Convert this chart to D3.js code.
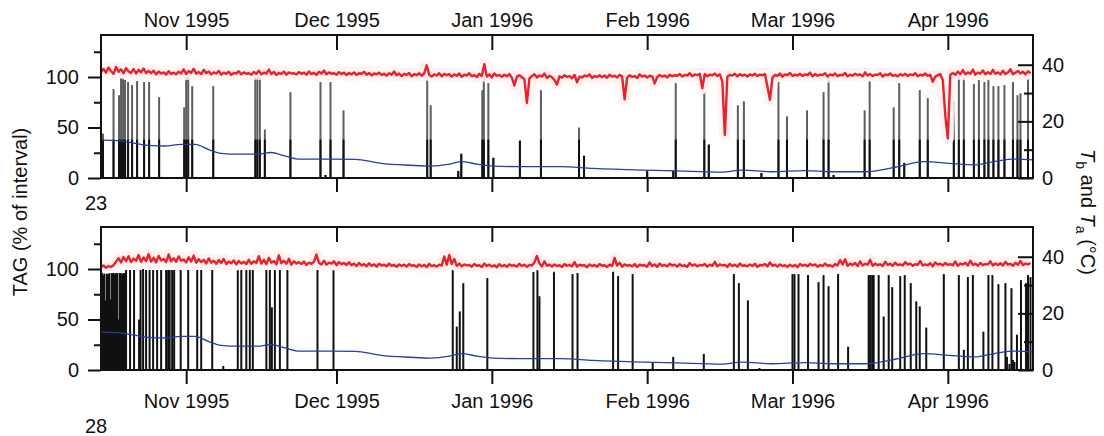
<!DOCTYPE html>
<html><head><meta charset="utf-8">
<script src="https://cdn.jsdelivr.net/npm/d3@7"></script>
<style>body{margin:0;background:#fff}svg{display:block;font-family:"Liberation Sans",Arial,Helvetica,sans-serif}</style>
</head><body><svg id="c" width="1104" height="436"></svg>
<script>
// ---------- data ----------
const seasonStart = "1995-10-15";
const seasonEnd = "1996-04-18";
const monthTicks = ["1995-11-01","1995-12-01","1996-01-01","1996-02-01","1996-03-01","1996-04-01"];
const tagTicks = [0, 50, 100];
const tagMinorTicks = [25, 75, 125];
const tempTicks = [0, 20, 40];
const tempMinorTicks = [10, 30];
const panelLabels = ["23", "28"];

// ambient temperature Ta (deg C), day = days after 15 Oct 1995
const ambientDay = [0,0.4,3.4,6.0,9.4,12.8,16.0,18.8,21.4,24.0,27.3,31.3,33.9,36.7,39.3,45.9,50.7,55.9,61.7,65.7,69.6,72.0,75.0,78.2,85.0,91.6,98.2,108.2,114.9,123.9,127.9,133.9,140.5,145.9,152.5,158.5,164.2,169.2,174.4,177.2,181.8,186];
const ambientTemp = [13.4,13.4,13.2,12.5,11.5,11.3,11.9,11.9,10.1,8.7,8.4,8.4,9.0,7.8,6.7,6.7,6.6,5.2,4.5,4.2,4.9,5.8,4.9,4.2,4.0,4.0,3.4,2.8,2.5,2.1,2.8,2.2,2.6,2.2,2.2,3.8,5.8,5.2,4.6,5.4,6.7,6.4];

// body temperature Tb (deg C), one reading every half day from 15 Oct 1995
const tbStepDays = 0.5;
const tbBat23 = [
37.4,38.5,37.2,39.0,37.7,36.8,39.2,37.5,38.4,37.0,38.8,37.6,37.1,38.5,36.9,38.2,37.3,38.7,37.0,37.8,
37.0,37.9,36.6,37.6,36.9,37.3,36.5,37.7,36.8,37.2,36.6,37.5,36.9,38.4,36.7,37.8,37.1,38.6,36.8,37.4,
36.7,38.2,37.0,37.6,36.6,37.3,36.9,37.8,36.5,37.2,36.8,37.5,36.4,37.1,36.9,37.7,36.6,37.3,36.8,37.0,
36.5,37.4,36.8,37.9,36.6,37.2,36.9,38.3,36.7,37.5,36.4,37.1,36.8,37.6,36.5,37.3,36.9,37.0,36.6,37.4,
36.8,37.2,36.5,37.6,36.7,37.1,36.4,37.5,36.9,38.0,36.6,37.3,36.8,37.0,36.5,37.4,36.7,37.2,36.3,37.1,
36.6,37.3,36.4,37.0,36.8,37.5,36.5,37.1,36.2,36.9,36.6,37.2,36.4,36.8,36.1,37.0,36.5,37.6,36.3,36.9,
36.0,36.8,36.4,37.1,35.9,36.7,36.3,37.0,36.1,36.9,39.8,36.4,35.8,36.6,36.2,37.0,35.9,36.8,36.3,36.7,
35.8,36.6,36.1,36.9,35.7,36.5,36.2,37.0,35.9,36.4,35.6,36.8,36.0,40.2,35.8,36.6,35.5,36.9,36.1,36.4,
35.7,36.5,35.9,36.7,35.4,32.7,35.8,36.3,35.6,34.9,26.5,35.2,36.0,36.6,35.5,36.2,35.8,36.9,35.3,36.1,
35.6,34.6,33.0,35.9,35.4,36.3,35.7,36.0,35.2,36.4,33.8,35.8,35.5,36.2,35.9,36.6,35.3,36.0,35.7,36.3,
35.6,36.2,35.4,36.5,35.8,36.1,35.5,36.4,35.9,27.8,35.4,36.3,35.7,36.0,35.3,36.6,35.8,36.2,35.5,36.1,
35.9,33.4,35.6,36.4,35.8,36.2,35.5,36.5,35.9,36.3,36.1,36.7,35.8,36.4,36.2,37.0,35.9,36.6,36.3,36.8,
31.7,36.7,35.9,36.5,36.3,36.9,36.0,36.6,34.0,15.2,35.8,36.4,36.2,36.8,35.9,36.7,36.1,36.5,35.8,36.6,
36.2,36.8,36.0,36.5,36.3,36.7,32.3,27.6,35.4,36.4,36.1,36.9,35.8,36.6,36.3,37.1,36.0,36.5,36.2,36.8,
36.0,36.6,36.3,37.2,35.9,36.7,36.1,36.5,36.4,37.0,35.8,36.6,36.2,36.9,36.0,36.4,36.3,37.1,35.9,36.5,
36.1,36.8,36.3,36.6,35.9,37.3,36.2,36.7,36.0,36.5,36.4,37.0,35.8,36.6,36.3,36.9,36.1,36.4,35.9,36.7,
36.2,36.8,36.0,36.6,36.3,37.0,35.9,36.5,36.2,36.9,36.1,36.4,34.0,35.8,36.3,36.7,34.5,22.0,14.0,36.5,
37.1,36.5,37.6,36.7,38.1,36.6,37.3,36.8,38.3,36.5,37.2,36.9,38.0,36.6,37.4,36.7,38.2,36.8,37.3,36.6,
37.9,36.7,37.3,38.4,36.6,37.2,37.8,36.9,37.5,36.6,37.7,37.0];
const tbBat28 = [
36.3,36.9,36.1,36.7,36.4,37.0,38.2,39.5,38.0,39.9,38.4,40.2,38.1,39.3,38.6,40.6,38.2,39.7,38.5,40.9,
38.3,39.6,38.0,40.3,38.7,39.2,38.1,40.8,38.4,39.5,38.2,40.1,38.6,39.0,38.0,39.8,38.3,40.4,37.9,39.1,
38.1,38.9,37.6,39.4,37.9,38.6,37.5,38.8,37.8,39.2,37.4,38.3,37.7,38.7,37.3,38.5,37.6,38.2,37.4,38.9,
37.5,38.4,37.8,40.2,37.6,38.9,37.4,39.6,37.9,38.5,37.3,40.5,37.7,38.6,37.5,39.3,37.2,38.4,37.6,38.1,
37.4,38.3,37.1,37.9,37.5,38.2,40.8,37.8,37.3,38.6,37.2,37.9,37.6,38.4,37.0,38.1,37.4,37.8,37.1,38.0,
37.0,37.6,36.7,37.8,36.9,37.4,36.6,37.7,36.8,37.3,36.5,37.5,36.9,37.2,36.6,37.6,36.8,37.1,36.4,37.3,
36.7,37.2,36.5,37.4,36.8,37.0,36.4,37.3,36.6,37.1,36.3,37.5,36.7,37.0,36.5,37.2,36.9,40.1,37.2,40.6,
37.4,39.2,36.8,37.6,36.6,37.3,36.9,37.1,36.5,37.4,36.8,37.0,36.4,37.6,36.7,37.2,36.5,37.0,36.3,37.4,
36.6,37.1,36.4,37.3,36.8,37.0,36.5,37.5,36.7,37.2,36.4,37.1,36.9,38.0,40.3,37.6,36.6,38.4,36.8,37.2,
36.5,37.3,36.7,37.0,36.4,37.4,36.8,37.1,36.6,38.1,36.5,37.2,36.9,37.0,36.3,37.3,36.7,37.1,36.5,37.4,
36.8,37.0,36.4,37.2,36.7,39.6,36.9,37.9,36.5,37.3,36.8,37.1,36.6,37.4,36.4,37.2,36.9,37.0,36.5,38.0,
36.7,37.3,36.4,37.6,36.8,37.1,36.6,37.5,36.9,37.2,36.5,37.4,36.7,37.0,36.4,37.8,36.8,37.3,36.6,37.1,
36.9,37.4,36.5,37.2,36.8,38.2,36.6,37.3,36.9,37.1,36.4,37.5,36.7,37.2,36.5,37.6,36.8,37.0,36.6,37.3,
36.7,37.5,36.4,37.1,36.9,37.4,36.6,38.0,36.8,37.2,36.5,37.3,36.7,37.0,36.4,37.2,36.6,37.1,36.3,37.4,
36.8,37.2,36.6,37.5,36.9,37.3,36.5,37.1,36.7,37.6,36.8,37.0,36.5,37.4,36.9,38.8,37.3,39.1,36.8,37.6,
37.0,37.8,36.7,38.4,36.9,37.5,37.2,38.9,36.8,37.6,37.0,37.4,36.7,38.2,37.1,37.5,36.8,37.9,37.0,37.3,
36.9,38.1,37.2,37.6,36.8,37.4,37.1,38.5,36.9,37.3,37.0,37.7,36.6,38.0,37.2,37.5,36.9,37.8,37.1,37.4,
37.0,38.3,36.8,37.6,37.2,37.9,36.9,38.6,37.1,37.5,36.8,37.8,37.0,37.4,37.3,38.4,36.9,37.6,37.1,37.7,
36.9,38.2,37.2,37.5,36.8,37.9,37.1,38.5,37.0,37.6,37.3,37.8];

// TAG (% of interval) bars: day after 15 Oct 1995 and percentage
const tagDay23 = [0.4,2.5,3.6,4.0,4.4,4.8,5.4,6.2,7.2,8.6,9.6,11.6,16.6,17.0,17.4,18.2,22.4,30.8,31.2,31.7,32.7,37.8,43.8,44.8,45.8,48.4,65.1,65.8,71.3,71.9,76.1,76.4,77.3,78.3,83.6,87.8,95.4,96.4,109.0,114.2,114.7,120.4,121.3,127.1,128.3,131.8,135.2,136.9,140.9,144.2,145.2,146.2,152.4,153.4,158.2,159.3,160.3,163.4,165.0,170.2,171.2,172.2,174.2,175.2,176.3,177.1,178.1,179.1,180.3,182.0,182.9,183.5,185.0];
const tagPct23 = [44,88,82,99,100,97,95,92,96,95,95,80,70,100,100,91,91,100,100,100,48,85,95,3,95,67,97,72,7,24,87,100,94,20,37,87,50,22,7,7,94,85,33,72,76,5,95,61,67,85,100,3,67,96,70,94,15,87,79,76,100,100,93,97,95,97,91,91,92,95,82,84,99];
const tagDay28 = [0.2,0.45,0.7,0.95,1.2,1.45,1.7,1.95,2.2,2.45,2.7,2.95,3.2,3.45,3.7,3.95,4.2,4.45,4.7,5.0,5.8,6.6,7.6,7.9,8.4,9.0,9.7,10.4,11.2,12.0,13.0,13.4,13.7,14.2,14.6,15.9,17.4,19.2,20.0,22.2,24.4,27.3,28.0,29.0,29.7,30.3,33.0,33.7,34.1,34.7,35.7,37.2,43.2,46.4,70.2,71.0,71.6,72.3,77.1,86.3,87.1,87.5,90.4,94.1,95.1,102.2,103.2,106.1,110.1,114.2,120.3,126.3,127.3,129.1,131.4,138.0,138.4,139.2,141.1,143.2,144.2,145.2,147.1,149.1,153.2,153.5,153.9,154.2,155.2,156.2,157.2,157.9,159.5,160.4,161.6,162.7,163.4,164.7,168.2,171.2,172.2,173.0,174.0,176.1,177.1,177.9,179.1,180.5,180.8,181.3,181.7,182.0,182.3,182.8,183.6,184.6,185.0,185.5];
const tagPct28 = [96,94,96,69,96,95,96,70,96,96,95,96,96,50,96,96,95,96,96,99,99,99,50,99,100,99,99,99,99,99,99,99,99,99,99,99,99,99,99,99,4,99,99,99,99,99,99,99,62,99,99,99,99,99,99,43,58,86,91,97,99,73,98,95,96,98,93,95,7,13,16,95,86,69,2,95,95,95,94,87,94,83,95,23,94,94,94,94,94,53,94,82,93,94,86,68,63,42,95,94,20,92,94,38,94,94,85,86,13,6,81,10,8,35,89,86,94,92];

// ---------- layout / scales ----------
const W = 1104, H = 436;
const plotLeft = 101, plotRight = 1033;
const tagMax = 141.6, tempMax = 50.5;
const parseDay = d3.utcParse("%Y-%m-%d");
const t0 = parseDay(seasonStart), t1 = parseDay(seasonEnd);
const dayToDate = d => new Date(t0.getTime() + d * 864e5);
const x = d3.scaleUtc().domain([t0, t1]).range([plotLeft, plotRight]);
const months = monthTicks.map(parseDay);
const fmt = d3.utcFormat("%b %Y");
const FONT = '"Liberation Sans", Arial, Helvetica, sans-serif';

const panels = [
  {label: panelLabels[0], top: 35, bottom: 178, tb: tbBat23, tagDay: tagDay23, tagPct: tagPct23, labelsOnTop: true, fadeUpper: true, labelY: 210},
  {label: panelLabels[1], top: 227, bottom: 370, tb: tbBat28, tagDay: tagDay28, tagPct: tagPct28, labelsOnTop: false, fadeUpper: false, labelY: 433}
];

const svg = d3.select("#c");
svg.append("rect").attr("width", W).attr("height", H).attr("fill", "#fff");

function styleAxis(g) {
  g.select(".domain").remove();
  g.attr("font-size", 20).attr("font-family", FONT);
  g.selectAll("line").attr("stroke", "#111").attr("stroke-width", 2);
  g.selectAll("text").attr("fill", "#111");
}

panels.forEach(p => {
  const yL = d3.scaleLinear().domain([0, tagMax]).range([p.bottom, p.top]);
  const yR = d3.scaleLinear().domain([0, tempMax]).range([p.bottom, p.top]);
  const g = svg.append("g");

  const bars = p.tagDay.map((d, i) => ({date: dayToDate(d), v: Math.min(100, p.tagPct[i])}));
  g.append("g").selectAll("rect").data(bars).join("rect")
    .attr("x", d => x(d.date) - 1).attr("width", 2)
    .attr("y", d => yL(d.v)).attr("height", d => yL(0) - yL(d.v))
    .attr("fill", p.fadeUpper ? "#5e5e5e" : "#111");
  if (p.fadeUpper) {
    g.append("g").selectAll("rect").data(bars).join("rect")
      .attr("x", d => x(d.date) - 1).attr("width", 2)
      .attr("y", d => yL(Math.min(d.v, 38))).attr("height", d => yL(0) - yL(Math.min(d.v, 38)))
      .attr("fill", "#111");
  }

  // ambient temperature
  const amb = ambientDay.map((d, i) => ({date: dayToDate(d), v: ambientTemp[i]}));
  g.append("path").datum(amb)
    .attr("fill", "none").attr("stroke", "#2b3aa6").attr("stroke-width", 1.3)
    .attr("d", d3.line().x(d => x(d.date)).y(d => yR(d.v)).curve(d3.curveMonotoneX));

  // body temperature
  const tb = p.tb.map((v, i) => ({date: dayToDate(i * tbStepDays), v}));
  const tbLine = d3.line().x(d => x(d.date)).y(d => yR(d.v));
  g.append("path").datum(tb)
    .attr("fill", "none").attr("stroke", "#fff2f0").attr("stroke-opacity", 0.85)
    .attr("stroke-width", 12).attr("stroke-linejoin", "round")
    .attr("d", tbLine);
  g.append("path").datum(tb)
    .attr("fill", "none").attr("stroke", "#e8212b").attr("stroke-width", 2.4)
    .attr("stroke-linejoin", "round")
    .attr("d", tbLine);

  // frame
  g.append("rect").attr("x", plotLeft).attr("y", p.top)
    .attr("width", plotRight - plotLeft).attr("height", p.bottom - p.top)
    .attr("fill", "none").attr("stroke", "#111").attr("stroke-width", 2);

  // left axis
  g.append("g").attr("transform", `translate(${plotLeft},0)`)
    .call(d3.axisLeft(yL).tickValues(tagTicks).tickSize(13).tickPadding(9)).call(styleAxis);
  g.append("g").attr("transform", `translate(${plotLeft},0)`)
    .call(d3.axisLeft(yL).tickValues(tagMinorTicks).tickSize(7).tickFormat("")).call(styleAxis);
  // right axis
  g.append("g").attr("transform", `translate(${plotRight},0)`)
    .call(d3.axisRight(yR).tickValues(tempTicks).tickSize(-15).tickPadding(9)).call(styleAxis);
  g.append("g").attr("transform", `translate(${plotRight},0)`)
    .call(d3.axisRight(yR).tickValues(tempMinorTicks).tickSize(-9).tickFormat("")).call(styleAxis);
  // bottom month ticks (outward)
  g.append("g").attr("transform", `translate(0,${p.bottom})`)
    .call(d3.axisBottom(x).tickValues(months).tickSize(14).tickPadding(10)
      .tickFormat(p.labelsOnTop ? "" : fmt)).call(styleAxis);
  // top month ticks (inward)
  g.append("g").attr("transform", `translate(0,${p.top})`)
    .call(d3.axisTop(x).tickValues(months).tickSize(-15).tickFormat("")).call(styleAxis);
  if (p.labelsOnTop) {
    const lg = g.append("g").attr("transform", `translate(0,${p.top})`)
      .call(d3.axisTop(x).tickValues(months).tickSize(0).tickPadding(8).tickFormat(fmt)).call(styleAxis);
    lg.selectAll("line").remove();
  }
  // panel label
  g.append("text").attr("x", 85).attr("y", p.labelY)
    .attr("font-size", 20).attr("font-family", FONT).attr("fill", "#111").text(p.label);
});

// axis titles
svg.append("text")
  .attr("transform", "translate(27,212) rotate(-90)")
  .attr("text-anchor", "middle").attr("font-size", 20).attr("font-family", FONT).attr("fill", "#111")
  .text("TAG (% of interval)");

const rt = svg.append("text")
  .attr("transform", "translate(1081,212) rotate(90)")
  .attr("text-anchor", "middle").attr("font-size", 20).attr("font-family", FONT).attr("fill", "#111");
rt.append("tspan").attr("font-style", "italic").text("T");
rt.append("tspan").attr("font-size", 14).attr("dy", 5).text("b");
rt.append("tspan").attr("dy", -5).text(" and ");
rt.append("tspan").attr("font-style", "italic").text("T");
rt.append("tspan").attr("font-size", 14).attr("dy", 5).text("a");
rt.append("tspan").attr("dy", -5).text(" (°C)");
</script>
</body></html>
